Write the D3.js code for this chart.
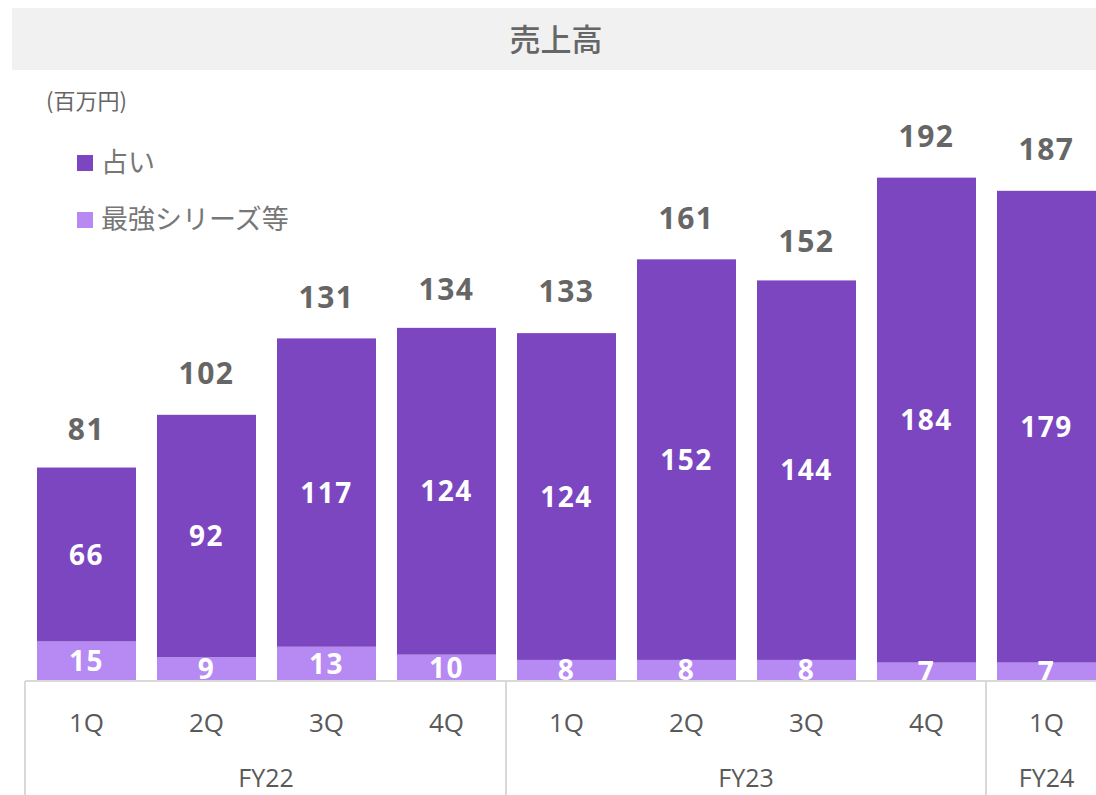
<!DOCTYPE html>
<html>
<head>
<meta charset="utf-8">
<script src="https://cdn.jsdelivr.net/npm/d3@7"></script>
<style>
  html, body { margin: 0; padding: 0; background: #fff; }
  svg { display: block; }
</style>
</head>
<body>
<svg id="chart" width="1096" height="795"></svg>
<script>
// Quarterly revenue (百万円), stacked by business line
const quarters = ["1Q", "2Q", "3Q", "4Q", "1Q", "2Q", "3Q", "4Q", "1Q"];
const fiscalYears = ["FY22", "FY23", "FY24"];
const quartersPerYear = [4, 4, 1];
const uranai = [66, 92, 117, 124, 124, 152, 144, 184, 179];
const saikyou = [15, 9, 13, 10, 8, 8, 8, 7, 7];
const totals = [81, 102, 131, 134, 133, 161, 152, 192, 187];
const seriesNames = ["占い", "最強シリーズ等"];
const seriesColors = ["#7b46bf", "#b68af2"];

const svg = d3.select("#chart");
const W = 1096, H = 795;
const baseY = 681;

const idx = d3.range(quarters.length);
const x = d3.scaleBand()
  .domain(idx)
  .range([26.5, 1106.5])
  .paddingInner(0.175)
  .paddingOuter(0.0875);
const y = d3.scaleLinear().domain([0, 192]).range([baseY, 175]);

const numFont = "'Open Sans', 'Noto Sans CJK JP', sans-serif";
const jpFont = "'Noto Sans CJK JP', sans-serif";

// Title band
svg.append("rect").attr("x", 12).attr("y", 8).attr("width", W - 12).attr("height", 62)
  .attr("fill", "#f1f1f1");
svg.append("text").attr("x", 556).attr("y", 51).attr("text-anchor", "middle")
  .attr("font-family", jpFont).attr("font-size", 31).attr("font-weight", 500)
  .attr("fill", "#666")
  .text("売上高");

// Unit label
svg.append("text").attr("x", 46).attr("y", 109)
  .attr("font-family", jpFont).attr("font-size", 22).attr("fill", "#666")
  .text("(百万円)");

// Legend
const legend = svg.append("g");
seriesNames.forEach((name, i) => {
  const ly = 155 + i * 57;
  legend.append("rect").attr("x", 77).attr("y", ly).attr("width", 16).attr("height", 16)
    .attr("fill", seriesColors[i]);
  legend.append("text").attr("x", 101).attr("y", ly + 17)
    .attr("font-family", jpFont).attr("font-size", 27).attr("fill", "#777")
    .text(name);
});

// Stacked bars
const rows = idx.map(i => ({ i, saikyou: saikyou[i], uranai: uranai[i] }));
const stack = d3.stack().keys(["saikyou", "uranai"]);
const layers = stack(rows);
const layerColors = [seriesColors[1], seriesColors[0]];

layers.forEach((layer, li) => {
  svg.append("g").selectAll("rect")
    .data(layer)
    .join("rect")
    .attr("x", d => x(d.data.i))
    .attr("width", x.bandwidth())
    .attr("y", d => y(d[1]))
    .attr("height", d => y(d[0]) - y(d[1]))
    .attr("fill", layerColors[li]);
});

// Segment value labels
layers.forEach((layer, li) => {
  svg.append("g").selectAll("text")
    .data(layer)
    .join("text")
    .attr("x", d => x(d.data.i) + x.bandwidth() / 2)
    .attr("y", d => (y(d[0]) + y(d[1])) / 2 + 10)
    .attr("text-anchor", "middle")
    .attr("font-family", numFont).attr("font-weight", 700)
    .attr("font-size", 28).attr("letter-spacing", 1.5).attr("fill", "#fff")
    .text(d => li === 0 ? d.data.saikyou : d.data.uranai);
});

// Total labels
svg.append("g").selectAll("text")
  .data(idx)
  .join("text")
  .attr("x", i => x(i) + x.bandwidth() / 2)
  .attr("y", i => y(totals[i]) - 28)
  .attr("text-anchor", "middle")
  .attr("font-family", numFont).attr("font-weight", 700)
  .attr("font-size", 30).attr("letter-spacing", 1.5).attr("fill", "#666")
  .text(i => totals[i]);

// Category axis
const axisColor = "#d9d9d9";
svg.append("line").attr("x1", 25).attr("x2", W).attr("y1", baseY).attr("y2", baseY)
  .attr("stroke", axisColor).attr("stroke-width", 2);

svg.append("g").selectAll("text")
  .data(idx)
  .join("text")
  .attr("x", i => x(i) + x.bandwidth() / 2)
  .attr("y", 732)
  .attr("text-anchor", "middle")
  .attr("font-family", numFont).attr("font-size", 26).attr("fill", "#595959")
  .text(i => quarters[i]);

// Fiscal year groups and separators
const step = x.step();
let start = 0;
const bounds = [];
fiscalYears.forEach((fy, g) => {
  const n = quartersPerYear[g];
  const left = x(start) - (step - x.bandwidth()) / 2 - 0.5;
  const right = x(start + n - 1) + x.bandwidth() + (step - x.bandwidth()) / 2 - 0.5;
  bounds.push(left);
  const cx = g === fiscalYears.length - 1 ? x(start) + x.bandwidth() / 2 : (left + right) / 2;
  svg.append("text").attr("x", cx).attr("y", 787)
    .attr("text-anchor", "middle")
    .attr("font-family", numFont).attr("font-size", 25).attr("fill", "#595959")
    .text(fy);
  start += n;
});
bounds[0] = 25;
svg.append("g").selectAll("line")
  .data(bounds)
  .join("line")
  .attr("x1", d => d).attr("x2", d => d)
  .attr("y1", baseY).attr("y2", H)
  .attr("stroke", axisColor).attr("stroke-width", 2);
</script>
</body>
</html>
